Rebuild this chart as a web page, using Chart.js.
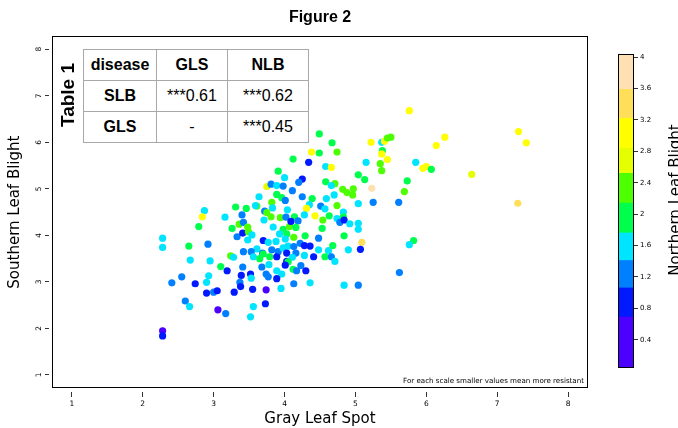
<!DOCTYPE html>
<html>
<head>
<meta charset="utf-8">
<script src="https://cdn.jsdelivr.net/npm/chart.js@4"></script>
<style>
  html, body { margin: 0; padding: 0; background: #fff; }
  #wrap { position: relative; width: 678px; height: 428px; overflow: hidden; }
  #mainChart { position: absolute; left: 0; top: 0; }
  #barChart { position: absolute; left: 610px; top: 40px; }
  .tbl { position: absolute; left: 83px; top: 49px; border-collapse: collapse; table-layout: fixed;
         background: #fff; font-family: 'Liberation Sans', Arial, sans-serif; font-size: 16px; color: #000; }
  .tbl td { border: 1px solid #a8a8a8; text-align: center; height: 30px; padding: 0; }
  .tbl .b { font-weight: bold; }
  .tlabel { position: absolute; left: 28px; top: 84px; width: 80px; height: 22px; line-height: 22px; text-align: center;
            transform: rotate(-90deg); font-family: 'Liberation Sans', Arial, sans-serif; font-weight: bold; font-size: 19px; }
  .note { position: absolute; right: 94px; top: 376px; font-family: 'DejaVu Sans', sans-serif; font-size: 7.1px; color: #000; }
</style>
</head>
<body>
<div id="wrap">
  <canvas id="mainChart" width="600" height="428"></canvas>
  <canvas id="barChart" width="68" height="340"></canvas>
  <div class="tlabel">Table 1</div>
  <table class="tbl">
    <colgroup><col style="width:73px"><col style="width:71px"><col style="width:81px"></colgroup>
    <tr><td class="b">disease</td><td class="b">GLS</td><td class="b">NLB</td></tr>
    <tr><td class="b">SLB</td><td>***0.61</td><td>***0.62</td></tr>
    <tr><td class="b">GLS</td><td>-</td><td>***0.45</td></tr>
  </table>
  <div class="note">For each scale smaller values mean more resistant</div>
</div>
<script>
// gray leaf spot (x), southern leaf blight (y), northern leaf blight (colour)
const gls = [
  4.49,4.38,4.49,4.12,4.34,4.58,3.91,4.00,4.25,4.20,
  4.58,3.75,3.81,3.89,3.98,4.11,3.89,3.96,4.01,4.25,
  3.64,4.39,4.59,3.82,4.35,4.51,3.31,3.46,3.61,3.72,
  3.83,4.04,4.31,4.43,2.87,2.84,3.16,3.40,3.75,3.81,
  3.94,4.02,4.14,4.28,4.54,2.79,3.26,3.36,3.42,3.48,
  3.71,3.84,3.98,4.07,4.09,4.19,4.16,4.53,3.33,3.41,
  3.49,3.54,3.93,4.03,4.13,4.29,4.48,2.28,2.28,2.92,
  2.65,3.48,3.70,3.77,3.88,4.01,4.22,4.28,4.36,4.48,
  4.62,3.61,3.42,3.53,3.69,3.82,3.91,3.98,4.05,4.03,
  4.13,4.16,4.41,4.57,3.24,3.28,3.56,3.65,3.70,3.79,
  3.89,4.03,4.11,4.05,4.28,2.67,2.95,3.10,3.19,3.41,
  3.68,3.78,3.89,3.96,4.01,4.12,4.17,4.23,4.30,2.93,
  2.55,2.41,2.74,2.90,3.39,3.52,3.53,3.74,3.77,3.89,
  3.37,3.38,4.13,4.36,2.90,3.00,3.05,3.29,3.55,3.74,
  3.95,2.60,2.66,3.06,3.17,3.56,3.73,3.52,2.28,2.28,
  5.76,7.30,7.41,6.26,6.14,5.22,5.37,5.41,5.45,5.50,
  5.38,5.37,5.45,5.35,5.37,5.15,5.85,5.95,6.00,6.07,
  6.64,5.73,5.69,7.29,5.23,5.61,5.25,5.04,5.04,5.13,
  4.67,4.74,4.66,4.71,4.66,4.82,4.97,4.88,4.96,4.70,
  4.74,4.57,4.63,4.74,4.83,4.83,4.78,4.84,4.92,5.04,
  5.04,4.84,5.09,5.07,4.68,4.90,4.66,4.71,5.82,5.76,
  5.62,4.84,5.04,3.59
];
const slb = [
  6.18,5.79,5.77,5.64,5.57,5.48,5.38,5.24,5.21,5.14,
  5.15,5.05,5.10,5.07,5.06,4.96,4.88,4.81,4.75,4.83,
  4.83,4.79,4.79,4.71,4.66,4.63,4.61,4.58,4.63,4.52,
  4.59,4.55,4.58,4.42,4.53,4.40,4.39,4.44,4.49,4.40,
  4.38,4.39,4.40,4.44,4.33,4.19,4.15,4.24,4.28,4.18,
  4.33,4.18,4.13,4.19,4.30,4.31,4.17,4.15,3.97,4.05,
  4.08,4.01,4.03,4.03,3.96,3.99,3.94,3.94,3.74,3.81,
  3.77,3.90,3.89,3.85,3.87,3.92,3.83,3.78,3.77,3.69,
  3.67,3.71,3.65,3.65,3.62,3.69,3.65,3.73,3.77,3.62,
  3.76,3.62,3.54,3.54,3.56,3.53,3.54,3.50,3.60,3.54,
  3.54,3.44,3.53,3.43,3.57,3.47,3.45,3.33,3.24,3.32,
  3.32,3.37,3.24,3.17,3.36,3.27,3.24,3.35,3.24,3.13,
  3.11,2.98,2.96,2.99,3.14,3.17,3.08,3.17,3.11,3.07,
  2.99,2.90,2.96,2.98,2.76,2.78,2.81,2.78,2.84,2.83,
  2.86,2.59,2.47,2.40,2.32,2.47,2.53,2.25,1.95,1.84,
  6.68,6.23,5.99,6.11,5.93,6.00,6.00,6.02,6.09,6.11,
  5.82,5.75,5.63,5.54,5.39,5.57,5.57,5.44,5.48,5.42,
  5.31,5.17,4.94,4.69,5.01,4.71,4.71,4.68,5.30,5.20,
  5.99,5.79,5.46,5.11,5.07,4.99,5.00,4.92,4.87,4.87,
  4.64,4.57,4.42,4.36,4.50,4.40,4.28,4.33,4.25,4.26,
  4.13,3.99,3.85,3.70,3.78,3.69,3.54,3.44,3.89,3.80,
  3.20,2.93,2.93,4.64
];
const nlb = [
  1.9,3.0,1.9,1.9,0.9,1.6,1.9,1.6,0.9,1.2,
  1.9,2.7,1.2,1.6,1.2,1.2,1.9,1.9,1.2,1.2,
  1.6,1.9,1.6,2.3,1.6,1.2,1.9,1.9,2.3,1.2,
  1.6,1.6,3.0,3.0,1.6,3.0,1.6,1.2,2.3,2.3,
  2.3,1.2,1.9,1.6,2.3,1.9,1.9,2.3,1.2,2.3,
  1.6,1.6,1.9,2.3,0.9,1.2,1.9,1.9,1.2,0.9,
  2.3,1.6,1.6,1.9,2.3,1.9,1.2,1.6,1.6,1.2,
  1.9,1.6,0.9,1.6,1.6,1.6,1.2,0.9,0.9,1.6,
  1.6,1.6,1.2,1.2,1.2,1.2,1.2,1.6,1.6,0.9,
  1.2,1.2,0.9,1.9,2.3,1.6,1.6,1.9,1.9,1.9,
  0.9,0.9,1.6,1.9,1.6,1.6,1.6,1.9,0.9,1.2,
  1.2,1.6,1.6,1.6,0.9,1.9,1.2,1.2,0.9,1.6,
  1.2,1.2,0.9,1.6,0.9,0.9,1.6,1.2,1.2,0.9,
  1.2,0.9,1.2,1.6,0.9,1.2,0.9,0.9,0.9,0.4,
  1.6,1.2,1.6,0.4,1.2,1.6,0.9,1.6,0.4,0.9,
  3.0,3.0,3.0,3.0,3.0,3.0,1.6,3.0,2.3,2.3,
  1.9,3.0,3.0,2.3,2.3,1.6,1.6,3.0,3.0,1.9,
  2.7,1.9,2.3,3.4,3.8,1.2,1.2,1.6,1.9,1.9,
  1.9,2.3,3.0,2.3,1.6,2.3,2.3,2.3,2.3,1.6,
  2.3,1.6,1.9,1.6,1.6,1.9,1.2,0.9,1.6,1.6,
  1.6,1.9,3.4,0.9,1.9,1.6,1.2,1.6,1.9,1.6,
  1.2,1.6,1.2,1.6
];

const xTicks = [1, 2, 3, 4, 5, 6, 7, 8];
const yTicks = [1, 2, 3, 4, 5, 6, 7, 8];
const nlbTicks = [0.4, 0.8, 1.2, 1.6, 2, 2.4, 2.8, 3.2, 3.6, 4];
const nlbBreaks = [0.04, 0.69, 1.06, 1.41, 1.76, 2.14, 2.52, 2.84, 3.22, 3.59, 4.04];
const topoColors = ['#4C00FF', '#0019FF', '#0080FF', '#00E5FF', '#00FF4D',
                    '#4DFF00', '#E6FF00', '#FFFF00', '#FFDE59', '#FFE0B3'];

const labelFont = 'DejaVu Sans';

function colorFor(v) {
	for (let i = 0; i < topoColors.length; i++) {
		if (v < nlbBreaks[i + 1]) return topoColors[i];
	}
	return topoColors[topoColors.length - 1];
}

// box round the plotting area
const framePlugin = {
	id: 'frame',
	afterDatasetsDraw(chart) {
		const a = chart.chartArea;
		const ctx = chart.ctx;
		ctx.save();
		ctx.strokeStyle = '#000';
		ctx.lineWidth = 1;
		ctx.strokeRect(Math.round(a.left) + 0.5, Math.round(a.top) + 0.5,
			Math.round(a.right - a.left) - 1, Math.round(a.bottom - a.top) - 1);
		ctx.restore();
	},
};

// colour key title reads bottom to top, on the right
const keyTitlePlugin = {
	id: 'keyTitle',
	afterDraw(chart) {
		const ctx = chart.ctx;
		ctx.save();
		ctx.translate(66, 160);
		ctx.rotate(-Math.PI / 2);
		ctx.font = '15px "' + labelFont + '"';
		ctx.fillStyle = '#000';
		ctx.textAlign = 'center';
		ctx.textBaseline = 'middle';
		ctx.fillText('Northern Leaf Blight', 0, 0);
		ctx.restore();
	},
};

new Chart(document.getElementById('mainChart'), {
	type: 'scatter',
	data: {
		datasets: [
			{
				data: gls.map((g, i) => ({ x: g, y: slb[i] })),
				backgroundColor: nlb.map(colorFor),
				borderWidth: 0,
				pointRadius: 3.6,
				pointHoverRadius: 3.6,
			},
		],
	},
	options: {
		responsive: false,
		animation: false,
		layout: { padding: { right: 12 } },
		plugins: {
			legend: { display: false },
			tooltip: { enabled: false },
			title: {
				display: true,
				text: 'Figure 2',
				fullSize: false,
				color: '#000',
				font: { family: 'Liberation Sans', size: 16, weight: 'bold' },
				padding: { top: 8, bottom: 9 },
			},
		},
		scales: {
			x: {
				type: 'linear',
				min: 0.72,
				max: 8.28,
				afterBuildTicks: (s) => { s.ticks = xTicks.map((v) => ({ value: v })); },
				afterFit: (s) => { s.height = 40; },
				border: { display: false },
				grid: { drawOnChartArea: false, tickLength: 9, tickColor: '#333', tickBorderDash: [0, 4, 5, 50] },
				ticks: { color: '#000', font: { family: labelFont, size: 7.5 }, padding: 3, maxRotation: 0 },
				title: { display: true, text: 'Gray Leaf Spot', color: '#000', font: { family: labelFont, size: 15 }, padding: 0 },
			},
			y: {
				type: 'linear',
				min: 0.72,
				max: 8.28,
				afterBuildTicks: (s) => { s.ticks = yTicks.map((v) => ({ value: v })); },
				afterFit: (s) => { s.width = 52; },
				border: { display: false },
				grid: { drawOnChartArea: false, tickLength: 7, tickColor: '#333', tickBorderDash: [4, 20] },
				ticks: { color: '#000', font: { family: labelFont, size: 7.5 }, padding: 4, minRotation: 90, maxRotation: 90, crossAlign: 'center' },
				title: { display: true, text: 'Southern Leaf Blight', color: '#000', font: { family: labelFont, size: 15 }, padding: { top: 6 } },
			},
		},
	},
	plugins: [framePlugin],
});

new Chart(document.getElementById('barChart'), {
	type: 'bar',
	data: {
		labels: [''],
		datasets: topoColors.map((c, i) => ({
			data: [[nlbBreaks[i], nlbBreaks[i + 1]]],
			backgroundColor: c,
			borderWidth: 0,
			barPercentage: 1,
			categoryPercentage: 1,
			grouped: false,
		})),
	},
	options: {
		responsive: false,
		animation: false,
		layout: { padding: { left: 8, top: 14, bottom: 12 } },
		plugins: { legend: { display: false }, tooltip: { enabled: false } },
		scales: {
			x: { display: false },
			y: {
				position: 'right',
				min: 0.04,
				max: 4.04,
				afterBuildTicks: (s) => { s.ticks = nlbTicks.map((v) => ({ value: v })); },
				afterFit: (s) => { s.width = 44; },
				border: { display: false },
				grid: { drawOnChartArea: false, tickLength: 4, tickColor: '#333' },
				ticks: { color: '#000', font: { family: labelFont, size: 7 }, padding: 2, callback: (v) => String(v) },
			},
		},
	},
	plugins: [framePlugin, keyTitlePlugin],
});
</script>
</body>
</html>
